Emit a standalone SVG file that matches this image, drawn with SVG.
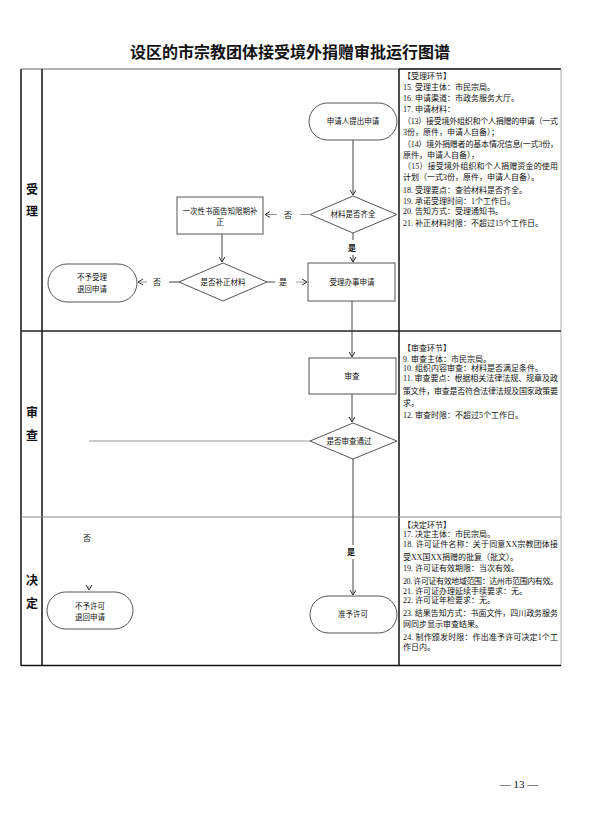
<svg xmlns="http://www.w3.org/2000/svg" width="601" height="814" viewBox="0 0 601 814">
<style>
.t{font-family:"Liberation Serif","Noto Sans CJK SC",serif;fill:#111}
.n{font-size:7.5px;text-anchor:middle;dominant-baseline:central}
.side{font-size:8px}
.lane{font-size:12px;font-weight:bold;text-anchor:middle;dominant-baseline:central}
.shape{fill:#fff;stroke:#555;stroke-width:1}
.c{fill:none;stroke:#444;stroke-width:1}
.cg{fill:none;stroke:#999;stroke-width:1}
.lbl{font-size:8px;text-anchor:middle;dominant-baseline:central}
</style>
<defs>
<marker id="ah" markerWidth="8" markerHeight="8" refX="5" refY="3" orient="auto" markerUnits="userSpaceOnUse">
<path d="M0,0 L5,3 L0,6" fill="none" stroke="#333" stroke-width="1"/>
</marker>
</defs>
<rect width="601" height="814" fill="#fff"/>
<text class="t" x="290" y="58" font-size="16" font-weight="bold" text-anchor="middle">设区的市宗教团体接受境外捐赠审批运行图谱</text>
<g id="table">
<line x1="21" y1="69" x2="561" y2="69" stroke="#666" stroke-width="1"/>
<line x1="399" y1="69" x2="561" y2="69" stroke="#222" stroke-width="1.5"/>
<line x1="21" y1="69" x2="21" y2="666" stroke="#111" stroke-width="1.5"/>
<line x1="42" y1="69" x2="42" y2="666" stroke="#111" stroke-width="1.5"/>
<line x1="399" y1="69" x2="399" y2="666" stroke="#111" stroke-width="1.5"/>
<line x1="561" y1="69" x2="561" y2="666" stroke="#aaa" stroke-width="1"/>
<line x1="21" y1="331" x2="561" y2="331" stroke="#222" stroke-width="1.5"/>
<line x1="21" y1="517" x2="561" y2="517" stroke="#888" stroke-width="1"/>
<line x1="21" y1="665.5" x2="561" y2="665.5" stroke="#111" stroke-width="1.5"/>
</g>
<g id="lanes">
<text class="t lane" x="32" y="190">受</text>
<text class="t lane" x="32" y="212">理</text>
<text class="t lane" x="32" y="413">审</text>
<text class="t lane" x="32" y="436">查</text>
<text class="t lane" x="32" y="581">决</text>
<text class="t lane" x="32" y="604">定</text>
</g>
<g id="connectors">
<line class="c" x1="353" y1="140" x2="353" y2="195" marker-end="url(#ah)"/>
<line class="cg" x1="310" y1="214.5" x2="300" y2="214.5"/>
<text class="t lbl" x="288" y="215">否</text>
<line class="cg" x1="277" y1="214.5" x2="265" y2="214.5" marker-end="url(#ah)"/>
<line class="c" x1="222" y1="234" x2="222" y2="262" marker-end="url(#ah)"/>
<line class="c" x1="353" y1="233" x2="353" y2="240"/>
<text class="t lbl" x="352" y="248" font-weight="bold">是</text>
<line class="c" x1="353" y1="255" x2="353" y2="262" marker-end="url(#ah)"/>
<line class="c" x1="179" y1="282" x2="169" y2="282"/>
<text class="t lbl" x="157" y="282">否</text>
<line class="cg" x1="147" y1="282" x2="138" y2="282" marker-end="url(#ah)"/>
<line class="c" x1="267" y1="282" x2="275" y2="282"/>
<text class="t lbl" x="283" y="282">是</text>
<line class="cg" x1="296" y1="282" x2="307" y2="282" marker-end="url(#ah)"/>
<line class="c" x1="352" y1="301" x2="352" y2="357" marker-end="url(#ah)"/>
<line class="c" x1="352" y1="394" x2="352" y2="422" marker-end="url(#ah)"/>
<line class="cg" x1="310" y1="441" x2="89" y2="441"/>
<text class="t lbl" x="87" y="538">否</text>
<line class="cg" x1="89" y1="586" x2="89" y2="590" marker-end="url(#ah)"/>
<line class="c" x1="353" y1="459" x2="353" y2="545"/>
<text class="t lbl" x="351" y="552" font-weight="bold">是</text>
<line class="c" x1="353" y1="559" x2="353" y2="595" marker-end="url(#ah)"/>
</g>
<g id="n_apply">
<rect class="shape" x="309" y="103" width="88" height="37" rx="18.5"/>
<text class="t n" x="353" y="121.5">申请人提出申请</text>
</g>
<g id="n_check1">
<polygon class="shape" points="353,196 397,214.5 353,233 310,214.5"/>
<text class="t n" x="353" y="214.5">材料是否齐全</text>
</g>
<g id="n_notify">
<rect class="shape" x="177" y="197" width="86" height="37"/>
<text class="t n" x="220" y="211">一次性书面告知限期补</text>
<text class="t n" x="220" y="222">正</text>
</g>
<g id="n_check2">
<polygon class="shape" points="223,263 267,282 223,301 179,282"/>
<text class="t n" x="223" y="282">是否补正材料</text>
</g>
<g id="n_reject1">
<rect class="shape" x="48" y="264" width="89" height="38" rx="19"/>
<text class="t n" x="92" y="277">不予受理</text>
<text class="t n" x="92" y="289">退回申请</text>
</g>
<g id="n_accept">
<rect class="shape" x="308" y="263" width="87" height="38"/>
<text class="t n" x="352" y="282">受理办事申请</text>
</g>
<g id="n_review">
<rect class="shape" x="309" y="358" width="87" height="36"/>
<text class="t n" x="352" y="376">审查</text>
</g>
<g id="n_check3">
<polygon class="shape" points="353,423 397,441 353,459 310,441"/>
<text class="t n" x="349" y="441">是否审查通过</text>
</g>
<g id="n_reject2">
<rect class="shape" x="47" y="592" width="86" height="37" rx="18.5"/>
<text class="t n" x="90" y="606">不予许可</text>
<text class="t n" x="90" y="617">退回申请</text>
</g>
<g id="n_grant">
<rect class="shape" x="310" y="596" width="87" height="37" rx="18.5"/>
<text class="t n" x="353" y="614.5">准予许可</text>
</g>
<g id="side1" class="t side">
<text x="403" y="79">【受理环节】</text>
<text x="403" y="90">15. 受理主体：市民宗局。</text>
<text x="403" y="101">16. 申请渠道：市政务服务大厅。</text>
<text x="403" y="112">17. 申请材料：</text>
<text x="403" y="124" textLength="155" lengthAdjust="spacing">（13）接受境外组织和个人捐赠的申请（一式</text>
<text x="403" y="135">3份，原件，申请人自备）；</text>
<text x="403" y="147" textLength="155" lengthAdjust="spacing">（14）境外捐赠者的基本情况信息(一式3份，</text>
<text x="403" y="158">原件，申请人自备），</text>
<text x="403" y="169" textLength="155" lengthAdjust="spacing">（15）接受境外组织和个人捐赠资金的使用</text>
<text x="403" y="180">计划（一式3份，原件，申请人自备）。</text>
<text x="403" y="193">18. 受理要点：查验材料是否齐全。</text>
<text x="403" y="204">19. 承诺受理时间：1个工作日。</text>
<text x="403" y="214">20. 告知方式：受理通知书。</text>
<text x="403" y="226">21. 补正材料时限：不超过15个工作日。</text>
</g>
<g id="side2" class="t side">
<text x="403" y="351">【审查环节】</text>
<text x="403" y="362">9. 审查主体：市民宗局。</text>
<text x="403" y="371">10. 组织内容审查：材料是否满足条件。</text>
<text x="403" y="381" textLength="155" lengthAdjust="spacing">11. 审查要点：根据相关法律法规、规章及政</text>
<text x="403" y="394" textLength="155" lengthAdjust="spacing">策文件，审查是否符合法律法规及国家政策要</text>
<text x="403" y="406">求。</text>
<text x="403" y="418">12. 审查时限：不超过5个工作日。</text>
</g>
<g id="side3" class="t side">
<text x="403" y="528">【决定环节】</text>
<text x="403" y="537">17. 决定主体：市民宗局。</text>
<text x="403" y="547" textLength="155" lengthAdjust="spacing">18. 许可证件名称：关于同意XX宗教团体接</text>
<text x="403" y="560">受XX国XX捐赠的批复（批文）。</text>
<text x="403" y="571">19. 许可证有效期限：当次有效。</text>
<text x="403" y="584" textLength="155" lengthAdjust="spacing">20. 许可证有效地域范围：达州市范围内有效。</text>
<text x="403" y="594">21. 许可证办理延续手续要求：无。</text>
<text x="403" y="603">22. 许可证年检要求：无。</text>
<text x="403" y="616" textLength="155" lengthAdjust="spacing">23. 结果告知方式：书面文件，四川政务服务</text>
<text x="403" y="627">网同步显示审查结果。</text>
<text x="403" y="640" textLength="155" lengthAdjust="spacing">24. 制作颁发时限：作出准予许可决定1个工</text>
<text x="403" y="650">作日内。</text>
</g>
<text class="t" x="519" y="788" font-size="11" text-anchor="middle">— 13 —</text>
</svg>
